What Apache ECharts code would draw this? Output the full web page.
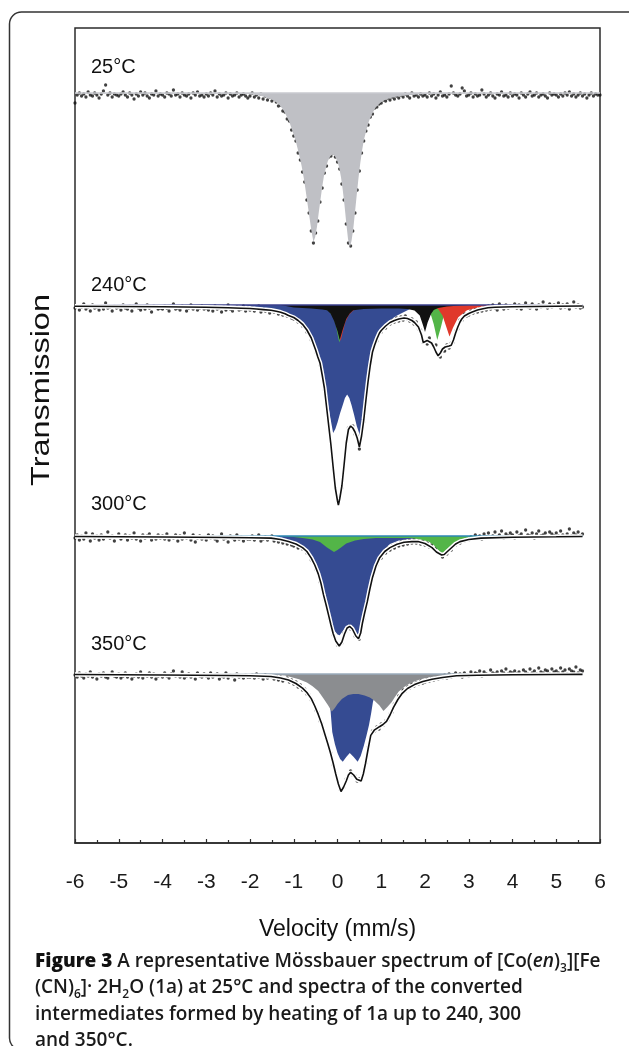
<!DOCTYPE html>
<html><head><meta charset="utf-8">
<script src="https://cdn.jsdelivr.net/npm/echarts@6/dist/echarts.min.js"></script>
<style>html,body{margin:0;padding:0;background:#fff}#c{width:629px;height:1046px}</style>
</head><body><div id="c"></div>
<script>
// ---- velocity channels (mm/s) ----
const velocityGrid = [
-6,-5.95,-5.9,-5.85,-5.8,-5.75,-5.7,-5.65,-5.6,-5.55,-5.5,-5.45,-5.4,-5.35,-5.3,-5.25,-5.2,-5.15,-5.1,-5.05,
-5,-4.95,-4.9,-4.85,-4.8,-4.75,-4.7,-4.65,-4.6,-4.55,-4.5,-4.45,-4.4,-4.35,-4.3,-4.25,-4.2,-4.15,-4.1,-4.05,
-4,-3.95,-3.9,-3.85,-3.8,-3.75,-3.7,-3.65,-3.6,-3.55,-3.5,-3.45,-3.4,-3.35,-3.3,-3.25,-3.2,-3.15,-3.1,-3.05,
-3,-2.95,-2.9,-2.85,-2.8,-2.75,-2.7,-2.65,-2.6,-2.55,-2.5,-2.45,-2.4,-2.35,-2.3,-2.25,-2.2,-2.15,-2.1,-2.05,
-2,-1.95,-1.9,-1.85,-1.8,-1.75,-1.7,-1.65,-1.6,-1.55,-1.5,-1.45,-1.4,-1.35,-1.3,-1.25,-1.2,-1.15,-1.1,-1.05,
-1,-0.95,-0.9,-0.85,-0.8,-0.75,-0.7,-0.65,-0.6,-0.55,-0.5,-0.45,-0.4,-0.35,-0.3,-0.25,-0.2,-0.15,-0.1,-0.05,
0,0.05,0.1,0.15,0.2,0.25,0.3,0.35,0.4,0.45,0.5,0.55,0.6,0.65,0.7,0.75,0.8,0.85,0.9,0.95,
1,1.05,1.1,1.15,1.2,1.25,1.3,1.35,1.4,1.45,1.5,1.55,1.6,1.65,1.7,1.75,1.8,1.85,1.9,1.95,
2,2.05,2.1,2.15,2.2,2.25,2.3,2.35,2.4,2.45,2.5,2.55,2.6,2.65,2.7,2.75,2.8,2.85,2.9,2.95,
3,3.05,3.1,3.15,3.2,3.25,3.3,3.35,3.4,3.45,3.5,3.55,3.6,3.65,3.7,3.75,3.8,3.85,3.9,3.95,
4,4.05,4.1,4.15,4.2,4.25,4.3,4.35,4.4,4.45,4.5,4.55,4.6,4.65,4.7,4.75,4.8,4.85,4.9,4.95,
5,5.05,5.1,5.15,5.2,5.25,5.3,5.35,5.4,5.45,5.5,5.55,5.6,5.65,5.7,5.75,5.8,5.85,5.9,5.95,
6];

const spectrumLabels = ['25°C', '240°C', '300°C', '350°C'];
// baseline transmission level of each stacked spectrum (arbitrary units)
const baselineLevel = [750, 538, 307, 169];
const baselineEnd = [6, 5.6, 5.6, 5.6];

// ---- measured points: absorption depth below baseline (a.u.) ----
const dots25 = [
10,2,0,3,1,4,-1,2,3,0,2,5,1,-2,-8,2,0,4,1,2,
3,1,-1,2,4,0,2,6,1,3,-1,2,0,3,5,1,2,-2,3,1,
2,4,0,1,3,-3,2,1,4,0,2,3,1,5,0,2,-1,3,2,4,
1,3,0,2,-2,4,1,3,2,0,5,1,3,2,0,4,2,1,3,5,
3,0,4,2,5,1,6,3,7,4,8,6,9,13,12,18,19,26,28,37,
43,48,60,67,79,89,107,120,138,150,140,128,109,95,80,73,64,63,60,64,
69,76,91,107,131,150,153,138,120,97,78,60,48,38,32,24,21,15,14,11,
10,7,8,5,7,4,6,3,5,2,4,1,3,5,0,3,2,4,1,3,
2,4,0,3,1,5,2,-1,3,2,4,1,-7,0,2,3,1,-5,-2,3,
2,0,4,1,3,2,-3,1,4,2,0,3,5,1,2,-1,3,2,4,0,
3,1,2,5,0,2,4,1,-1,3,2,0,4,2,1,3,5,0,2,1,
2,4,1,3,0,2,-1,3,1,4,2,0,3,1,5,2,0,3,1,2,
2];
const dots240 = [
3,1,5,2,-1,4,2,6,0,3,2,5,1,4,-2,3,2,6,1,3,
2,5,0,3,4,1,6,2,-1,3,5,2,4,0,3,7,1,2,4,3,
4,1,3,6,2,-1,4,3,5,1,2,6,3,0,4,2,5,3,1,4,
3,5,2,6,1,4,3,7,2,5,0,4,6,3,2,5,4,1,6,3,
5,2,6,4,1,7,3,6,5,8,4,7,5,9,6,10,8,11,9,13,
14,12,17,16,21,20,27,28,35,38,47,51,60,69,85,101,123,139,164,182,
198,192,183,158,140,123,122,121,129,131,144,129,117,93,78,58,49,38,36,27,
27,22,23,17,19,15,17,13,16,12,15,11,14,16,14,19,17,24,25,37,
36,39,33,38,42,40,49,52,46,46,40,43,38,37,26,24,15,15,9,11,
10,6,8,4,7,3,6,2,5,1,4,0,3,5,-1,2,4,0,3,1,
2,-1,3,0,4,1,-2,2,3,-1,1,4,0,2,-3,1,3,-1,2,0,
1,-2,3,0,2,-1,4,1,-3,2,0,3,2,null,null,null,null,null,null,null,
null];
const dots300 = [
2,-1,4,0,3,-3,1,5,-2,2,0,4,-1,3,1,-4,2,0,5,1,
-2,3,1,-1,4,0,2,-3,3,1,5,-1,2,0,-2,4,1,3,-1,2,
0,3,-2,4,1,2,-1,5,0,3,-3,2,1,4,-1,6,2,0,3,1,
4,-1,2,0,3,5,1,-2,3,2,6,0,2,4,-1,3,1,5,2,3,
3,0,4,2,-1,5,3,1,4,2,0,5,3,6,2,7,4,8,5,9,
10,7,12,9,13,12,17,16,24,25,33,36,46,50,64,69,82,88,99,103,
109,108,107,97,95,89,93,92,100,101,103,91,83,68,63,49,43,32,29,21,
22,16,17,12,14,10,12,8,10,6,9,5,8,4,7,3,7,5,8,5,
9,7,11,9,13,12,17,17,21,18,18,13,14,8,9,5,7,3,5,2,
4,1,3,-1,2,0,3,-2,1,-3,2,0,-4,1,-1,-5,2,-2,0,-3,
-1,2,-4,0,-2,1,-6,-1,0,-3,2,-2,-5,0,-1,-3,1,-4,-2,0,
-3,0,-5,-1,1,-2,-7,0,-3,-1,-4,0,-2,null,null,null,null,null,null,null,
null];
const dots350 = [
1,3,-1,2,4,0,2,-2,3,1,5,0,2,-1,3,4,1,-2,2,3,
0,4,2,-1,3,1,5,2,0,3,-2,4,1,2,-1,3,0,5,2,1,
3,-1,2,4,0,-3,2,1,3,-2,4,2,0,3,1,5,-1,2,3,0,
2,4,-1,3,1,0,5,2,3,-1,4,1,2,6,0,3,2,4,1,3,
3,1,4,0,3,2,5,1,4,2,3,5,2,6,3,7,5,4,8,6,
10,8,13,11,16,15,20,21,26,28,36,38,47,50,60,64,74,79,91,97,
105,115,114,113,105,102,97,101,102,107,105,106,96,89,73,65,57,57,53,55,
50,51,47,46,40,38,30,28,22,21,16,17,13,14,10,12,9,10,7,9,
8,5,7,4,6,3,5,2,4,1,4,0,3,1,-1,2,0,3,-1,1,
2,-2,1,-1,0,-3,2,-2,0,1,-4,-1,0,-2,1,-3,-1,-5,0,-2,
-1,-3,0,-2,1,-4,-2,0,-5,-1,-3,0,-6,-2,-1,-4,-3,0,-5,-2,
-3,-1,-6,-2,-4,0,-5,-3,-2,-7,-1,-4,-3,null,null,null,null,null,null,null,
null];

// ---- fitted curves: [velocity, depth] ----
const fit25 = [[-6,0.3],[-4,0.5],[-3,0.8],[-2.4,0.8],[-2,1],[-1.8,2.5],[-1.69,3.5],[-1.5,6.5],[-1.36,10.5],[-1.25,16],[-1.17,22.8],[-1.1,29],[-1.04,36.8],[-0.96,47],[-0.89,59.6],[-0.82,73],[-0.76,87.7],[-0.68,112.3],[-0.6,136.8],[-0.55,149],[-0.51,144],[-0.47,134],[-0.43,120],[-0.39,107],[-0.35,94],[-0.31,83],[-0.26,74],[-0.22,68],[-0.16,63],[-0.11,61.4],[-0.06,63],[0,68.4],[0.04,75],[0.08,84.2],[0.12,97],[0.16,112.3],[0.2,130],[0.24,146],[0.28,154.4],[0.32,148],[0.36,136],[0.4,119],[0.44,101.7],[0.48,85],[0.52,70.2],[0.56,58],[0.6,47.4],[0.66,37],[0.72,28.1],[0.8,20],[0.88,14],[1,9],[1.12,6.3],[1.3,4],[1.52,2.5],[2,1],[3,0.6],[4,0.5],[6,0.3]];

const envelope240 = [[-6,1.2],[-5,1.5],[-4,1.8],[-3,2.3],[-2.5,2.8],[-2.2,3.2],[-2,3.5],[-1.85,4],[-1.7,4.6],[-1.52,5.3],[-1.4,6.3],[-1.3,7.3],[-1.2,8.8],[-1.12,10.5],[-1,12.5],[-0.9,15.5],[-0.8,19.3],[-0.7,25],[-0.6,33],[-0.5,45],[-0.45,52],[-0.4,58],[-0.35,70],[-0.3,83],[-0.25,102],[-0.2,121],[-0.15,140],[-0.1,162],[-0.05,183],[0,196],[0.02,200],[0.05,194],[0.1,181],[0.15,160],[0.2,138],[0.25,124.5],[0.3,121],[0.35,123],[0.4,127],[0.45,133],[0.5,142],[0.55,131],[0.6,115],[0.65,95],[0.7,76],[0.75,60],[0.8,47],[0.85,40],[0.9,34],[0.96,28],[1,25.5],[1.1,21],[1.2,17.5],[1.3,15.5],[1.4,14],[1.52,13],[1.6,13.5],[1.7,15.5],[1.76,17.5],[1.85,22],[1.92,30],[1.96,37.5],[2,38],[2.05,35.5],[2.08,35.1],[2.15,38],[2.2,42],[2.25,47],[2.3,50.8],[2.35,48],[2.4,44],[2.46,42],[2.5,41.5],[2.55,41],[2.6,40.3],[2.65,35],[2.7,28],[2.75,22],[2.8,17],[2.84,14],[2.9,11],[3,8.5],[3.08,7],[3.2,5],[3.3,4],[3.44,2.8],[3.6,2.3],[4,1.8],[4.5,1.5],[5,1.2],[5.6,1]];
const blue240 = [[-2.2,0],[-1.6,3.5],[-1.12,9.5],[-0.9,15],[-0.72,22.8],[-0.6,31],[-0.49,43.8],[-0.4,58],[-0.33,75.4],[-0.26,90],[-0.2,103.5],[-0.15,116],[-0.1,128],[-0.05,124],[0,117.5],[0.06,108],[0.12,100],[0.17,93],[0.22,89.4],[0.27,93],[0.32,100],[0.38,110],[0.44,121],[0.52,131.5],[0.56,123],[0.6,110.5],[0.65,93],[0.7,75.4],[0.77,56],[0.84,40.3],[0.93,30],[1.04,22.8],[1.2,15],[1.36,10.5],[1.68,3.5],[2,0.7],[2.4,0]];
const black240 = [[-1.3,0],[-1,2.5],[-0.6,3.5],[-0.35,4.5],[-0.24,5.3],[-0.16,8.5],[-0.08,15.8],[0,26.3],[0.05,35],[0.12,24.5],[0.2,14],[0.28,8.5],[0.36,5.3],[0.6,4],[1,3.5],[1.4,3.5],[1.6,4],[1.76,5.5],[1.88,10.5],[1.96,21],[2,27],[2.06,17.5],[2.14,8.8],[2.2,5],[2.3,3],[2.5,1.5],[2.8,0.5],[3,0]];
const green240 = [[-0.5,0],[-0.3,3],[-0.2,6],[-0.1,12],[-0.04,20],[0,29],[0.04,37.5],[0.1,28],[0.16,16],[0.24,8],[0.34,4],[0.5,1],[0.7,0],[1.9,0],[2,2],[2.08,5],[2.14,10.5],[2.2,19.3],[2.28,35],[2.36,22.8],[2.42,12.3],[2.48,5.3],[2.56,2],[2.7,0]];
const red240 = [[-0.4,0],[-0.2,4],[-0.1,8],[-0.02,15],[0.03,26],[0.07,36],[0.12,27],[0.18,17],[0.26,10],[0.36,5.5],[0.5,3],[0.8,1],[1.2,0],[2.1,0],[2.2,2],[2.3,4],[2.4,10.5],[2.48,21],[2.56,31.6],[2.64,22.8],[2.76,12.3],[2.96,5.3],[3.28,1.7],[3.6,0]];

const envelope300 = [[-6,0.5],[-4,1],[-2.5,1.5],[-2,1.8],[-1.52,2.1],[-1.3,3.5],[-1.12,5.6],[-0.95,8],[-0.8,11.6],[-0.7,15.5],[-0.6,22.1],[-0.52,29],[-0.44,37.9],[-0.38,47],[-0.32,58.9],[-0.26,69],[-0.2,79.9],[-0.15,89],[-0.1,97.5],[-0.04,105],[0.04,110],[0.1,106],[0.16,98],[0.22,92],[0.28,90.5],[0.34,93],[0.42,100],[0.48,102.7],[0.53,97],[0.57,87],[0.62,77],[0.68,65.9],[0.74,53],[0.8,41.4],[0.88,30],[0.96,22.1],[1.08,15.5],[1.2,11.6],[1.36,8.2],[1.52,6.3],[1.7,5.6],[1.84,5.6],[2,7.5],[2.16,11.6],[2.26,16],[2.38,19],[2.44,18.5],[2.5,16],[2.6,12],[2.7,8],[2.8,5.6],[3,3.5],[3.28,2.1],[4,1.2],[5,0.8],[5.6,0.5]];
const blue300 = [[-2,0],[-1.6,1.2],[-1.36,2.1],[-1.1,4.5],[-0.88,8],[-0.72,13.5],[-0.57,22.1],[-0.46,35],[-0.36,51.9],[-0.28,64],[-0.2,76.4],[-0.14,86],[-0.08,94],[0,98.5],[0.05,99.2],[0.12,95],[0.2,90],[0.3,88.7],[0.38,93],[0.48,101],[0.56,88],[0.64,69.4],[0.7,55],[0.76,41.4],[0.84,30],[0.92,22.1],[1.05,14],[1.2,8],[1.4,4.5],[1.68,2.8],[2,1.2],[2.4,0]];
const green300 = [[-1.3,0],[-1,1],[-0.8,2],[-0.57,3.5],[-0.4,6],[-0.24,11.6],[-0.15,14],[-0.08,16.1],[0,14],[0.08,11.6],[0.2,7.5],[0.4,4.5],[0.6,3],[0.88,2.1],[1.3,2],[1.68,2.1],[1.9,3.5],[2.08,5.6],[2.2,9],[2.28,13],[2.34,15.5],[2.4,17],[2.48,15],[2.6,11.6],[2.7,7],[2.8,3.5],[3,1.5],[3.12,0.7],[3.4,0]];

const envelope350 = [[-6,0.5],[-4,1],[-2.5,1.5],[-2,1.8],[-1.52,2.5],[-1.3,4],[-1.12,6],[-0.95,9.5],[-0.8,14.1],[-0.7,18.5],[-0.6,24.6],[-0.52,32],[-0.44,40.4],[-0.36,50],[-0.28,61.4],[-0.22,70],[-0.16,79],[-0.1,89],[-0.04,100],[0.02,110],[0.08,117.5],[0.14,113],[0.2,107],[0.25,101],[0.3,98.3],[0.37,101],[0.44,105.3],[0.54,107],[0.59,100],[0.64,89.5],[0.7,75],[0.76,61.4],[0.84,56.2],[0.96,52.7],[1.04,50.5],[1.12,47.4],[1.2,41],[1.28,33.4],[1.38,25.5],[1.48,19.3],[1.6,14.5],[1.76,10.6],[1.95,7.5],[2.16,5.3],[2.4,3.5],[2.72,1.8],[3.2,1.2],[4,0.8],[5,0.5],[5.6,0.4]];
const blue350 = [[-1.5,0],[-1,1.5],[-0.5,5],[-0.3,12],[-0.2,25],[-0.16,36],[-0.12,58],[-0.06,70],[0,79],[0.06,85],[0.12,87.7],[0.2,83],[0.28,79],[0.37,83],[0.46,87.7],[0.53,82],[0.6,71.9],[0.66,62],[0.72,50.9],[0.77,39],[0.81,28.1],[0.86,20],[0.95,12],[1.1,7],[1.4,3],[2,0]];
const grey350 = [[-2,0],[-1.52,0.5],[-1.2,1.6],[-0.88,5.3],[-0.7,8.5],[-0.57,12.3],[-0.44,17],[-0.32,24.6],[-0.22,31],[-0.13,37.6],[-0.06,34],[0,29.9],[0.1,25],[0.24,21.1],[0.36,20],[0.48,20],[0.62,21.5],[0.74,23.5],[0.84,26.4],[0.96,31.5],[1.05,36.9],[1.14,33],[1.24,28.1],[1.32,22.5],[1.4,17.6],[1.54,12.5],[1.68,8.8],[1.88,5.5],[2.08,3.6],[2.4,1.8],[2.64,0.7],[3,0]];

// ---- helpers ----
const toPts = (pairs, base) => pairs.map(p => [p[0], base - p[1]]);
const dotPts = (depths, base) => velocityGrid.map((v, i) => depths[i] == null ? null : [v, base - depths[i]]).filter(Boolean);

function area(pairs, base, color) {
  return { type: 'line', data: toPts(pairs, base), symbol: 'none', silent: true,
    lineStyle: { opacity: 0, width: 0 }, areaStyle: { color: color, opacity: 1, origin: base } };
}
function curve(pairs, base, color, width) {
  return { type: 'line', data: toPts(pairs, base), symbol: 'none', silent: true,
    lineStyle: { color: color, width: width } };
}
function baseLine(i, color) {
  return { type: 'line', data: [[-6, baselineLevel[i]], [baselineEnd[i], baselineLevel[i]]], symbol: 'none', silent: true,
    lineStyle: { color: color, width: 1.4 } };
}
function dots(depths, base) {
  return { type: 'scatter', data: dotPts(depths, base), symbol: 'circle', symbolSize: 3.3, silent: true,
    itemStyle: { color: '#111' } };
}

const B = baselineLevel;
const series = [
  // 25 C
  area(fit25, B[0], '#bfc0c5'),
  baseLine(0, '#c9cacf'),
  dots(dots25, B[0]),
  // 240 C
  area(blue240, B[1], '#354b92'),
  area(green240, B[1], '#53b548'),
  area(red240, B[1], '#e0392b'),
  area(black240, B[1], '#111111'),
  baseLine(1, '#3a3f8c'),
  curve(envelope240, B[1], '#ffffff', 4.5),
  curve(envelope240, B[1], '#111111', 1.6),
  dots(dots240, B[1]),
  // 300 C
  area(blue300, B[2], '#354b92'),
  area(green300, B[2], '#53b548'),
  baseLine(2, '#2b86b5'),
  curve(envelope300, B[2], '#ffffff', 4.5),
  curve(envelope300, B[2], '#111111', 1.6),
  dots(dots300, B[2]),
  // 350 C
  area(blue350, B[3], '#354b92'),
  area(grey350, B[3], '#8b8d90'),
  baseLine(3, '#9aabbb'),
  curve(envelope350, B[3], '#ffffff', 4.5),
  curve(envelope350, B[3], '#111111', 1.6),
  dots(dots350, B[3])
];

const FONT = '"Liberation Sans", Arial, Helvetica, sans-serif';
const CAPFONT = '"Open Sans", sans-serif';
const labelY = [67, 285, 504, 644];
const caption = '{b|Figure 3} A representative Mössbauer spectrum of [Co({i|en}){s|3}][Fe\n' +
  '(CN){s|6}]· 2H{s|2}O (1a) at 25°C and spectra of the converted\n' +
  'intermediates formed by heating of 1a up to 240, 300\n' +
  'and 350°C.';

const graphic = [
  { type: 'rect', silent: true, z: 0, shape: { x: 9.5, y: 12, width: 700, height: 1038, r: 12 },
    style: { fill: 'none', stroke: '#333', lineWidth: 1.5 } },
  { type: 'text', silent: true, x: 42, y: 390, rotation: Math.PI / 2, scaleX: 1.3,
    style: { text: 'Transmission', fontFamily: FONT, fontSize: 25, fill: '#111', align: 'center', verticalAlign: 'middle' } },
  { type: 'text', silent: true, x: 35, y: 948,
    style: { text: caption, fontFamily: CAPFONT, fontSize: 19, fontWeight: 600, lineHeight: 26.5, fill: '#1a1a1a',
      verticalAlign: 'top',
      rich: {
        b: { fontFamily: CAPFONT, fontSize: 19, fontWeight: 800, fill: '#111', lineHeight: 26.5 },
        i: { fontFamily: CAPFONT, fontSize: 19, fontWeight: 600, fontStyle: 'italic', fill: '#1a1a1a', lineHeight: 26.5 },
        s: { fontFamily: CAPFONT, fontSize: 12, fontWeight: 600, fill: '#1a1a1a', verticalAlign: 'bottom', lineHeight: 12 }
      } } }
];
spectrumLabels.forEach((t, i) => graphic.push({ type: 'text', silent: true, x: 91, y: labelY[i],
  style: { text: t, fontFamily: FONT, fontSize: 20, fill: '#111', verticalAlign: 'middle' } }));

const chart = echarts.init(document.getElementById('c'), null, { renderer: 'canvas' });
chart.setOption({
  animation: false,
  backgroundColor: '#fff',
  grid: { left: 75, right: 29, top: 28, bottom: 203, show: true, borderColor: '#2b2b2b', borderWidth: 1.5, backgroundColor: 'transparent' },
  xAxis: {
    type: 'value', min: -6, max: 6, interval: 1,
    name: 'Velocity (mm/s)', nameLocation: 'middle', nameGap: 75,
    nameTextStyle: { fontFamily: FONT, fontSize: 23, color: '#111' },
    axisLine: { lineStyle: { color: '#2b2b2b', width: 1.5 } },
    axisTick: { inside: true, length: 4, lineStyle: { color: '#2b2b2b', width: 1.2 } },
    minorTick: { show: true, splitNumber: 2, length: 3, lineStyle: { color: '#2b2b2b', width: 1.2 } },
    axisLabel: { margin: 29, fontFamily: FONT, fontSize: 21, color: '#1a1a1a' },
    splitLine: { show: false }
  },
  yAxis: { type: 'value', min: 0, max: 815, show: false },
  graphic: graphic,
  series: series
});
</script></body></html>
